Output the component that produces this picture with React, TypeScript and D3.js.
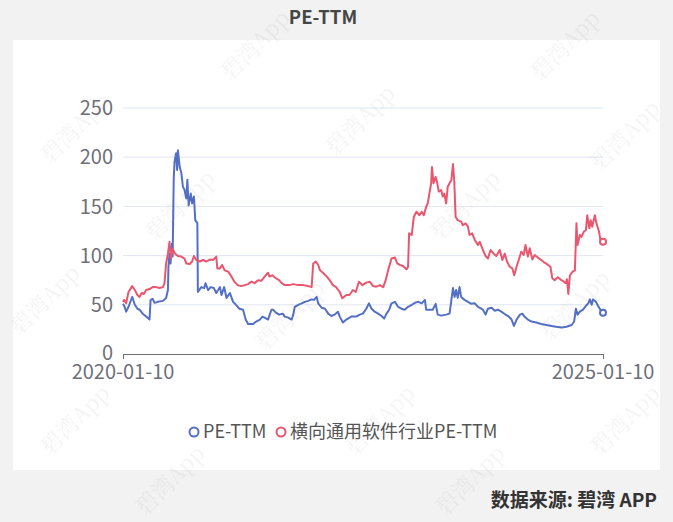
import React from "react";
import * as d3 from "d3";

const W = 673;
const H = 522;

const title = "PE-TTM";
const seriesNames = ["PE-TTM", "横向通用软件行业PE-TTM"];
const seriesColors = ["#5470c6", "#eb566f"];
const yTicks = [0, 50, 100, 150, 200, 250];
const xTickLabels = ["2020-01-10", "2025-01-10"];
const sourceText = "数据来源: 碧湾 APP";

const peDates = [
  "2020-01-10","2020-01-16","2020-01-22","2020-01-31","2020-02-14","2020-02-24","2020-03-05","2020-03-13","2020-03-25","2020-04-07",
  "2020-04-20","2020-04-24","2020-05-02","2020-05-09","2020-05-21","2020-06-10","2020-06-22","2020-06-29","2020-07-01","2020-07-05",
  "2020-07-09","2020-07-14","2020-07-17","2020-07-21","2020-07-24","2020-07-30","2020-08-03","2020-08-06","2020-08-13","2020-08-19",
  "2020-08-25","2020-08-31","2020-09-07","2020-09-11","2020-09-16","2020-09-24","2020-09-29","2020-10-06","2020-10-11","2020-10-19",
  "2020-10-21","2020-11-03","2020-11-14","2020-11-19","2020-11-29","2020-12-09","2020-12-21","2020-12-30","2021-01-13","2021-01-19",
  "2021-01-29","2021-02-07","2021-02-20","2021-03-04","2021-03-15","2021-03-28","2021-04-11","2021-04-21","2021-04-30","2021-05-19",
  "2021-05-31","2021-06-14","2021-06-24","2021-07-02","2021-07-15","2021-07-28","2021-08-03","2021-08-14","2021-08-26","2021-09-09",
  "2021-09-17","2021-09-30","2021-10-13","2021-10-19","2021-10-25","2021-11-07","2021-11-20","2021-12-02","2021-12-15","2021-12-28",
  "2022-01-06","2022-01-16","2022-01-22","2022-02-04","2022-02-17","2022-03-01","2022-03-13","2022-03-25","2022-04-07","2022-04-14",
  "2022-04-26","2022-05-09","2022-05-28","2022-06-16","2022-06-29","2022-07-11","2022-07-24","2022-08-03","2022-08-13","2022-08-25",
  "2022-09-07","2022-09-20","2022-09-30","2022-10-09","2022-10-19","2022-10-28","2022-11-10","2022-11-22","2022-12-05","2022-12-17",
  "2022-12-30","2023-01-13","2023-01-25","2023-02-07","2023-02-20","2023-03-04","2023-03-09","2023-03-21","2023-04-03","2023-04-14",
  "2023-04-22","2023-05-05","2023-05-24","2023-06-06","2023-06-13","2023-06-19","2023-06-25","2023-07-01","2023-07-07","2023-07-14",
  "2023-07-20","2023-08-02","2023-08-15","2023-08-28","2023-09-10","2023-09-22","2023-10-05","2023-10-11","2023-10-21","2023-10-30",
  "2023-11-13","2023-11-25","2023-12-07","2023-12-20","2024-01-02","2024-01-15","2024-01-28","2024-02-06","2024-02-16","2024-02-29",
  "2024-03-09","2024-03-17","2024-03-30","2024-04-13","2024-05-01","2024-05-20","2024-06-09","2024-06-28","2024-07-16","2024-08-05",
  "2024-08-24","2024-09-13","2024-09-22","2024-09-29","2024-10-05","2024-10-14","2024-10-26","2024-11-06","2024-11-15","2024-11-21",
  "2024-11-28","2024-12-03","2024-12-14","2024-12-22","2024-12-31","2025-01-10"
];
const peValues = [
  51,48,43,48,58,50,46,45,41,38,
  35,55,56,52,53,54,57,65,89,102,
  92,112,99,177,195,204,187,207,190,184,
  170,167,158,177,151,163,153,160,136,133,
  63,68,67,72,65,68,67,62,68,60,
  68,57,62,53,50,46,45,35,30.5,30.5,
  33,35,38,37,35,45,45,42,40,41,
  38,37,35,40,48,50,51.5,53,54,55.5,
  55,58,51.5,47,46,41,38.6,40,43,38,
  32,35,38,38,40,41,46,51.5,46,43,
  41,38.6,36,41,45,51.5,53,48,46,45,
  48,50,52,53,51.5,55,45,45,45,51,
  40,39,40,41,55,67,58,65,57,68,
  58,55,53,51,51.5,48,46,45,40,46,
  47,44,45,43,40.6,38.6,35,28.5,35,40,
  41,38,35,33,32,30.5,29.5,28.5,27.7,27,
  27.7,29.5,33,46,40,43,45,49,51.5,55.5,
  50,55.5,53,49,45,42
];

const indDates = [
  "2020-01-10","2020-01-14","2020-01-22","2020-01-31","2020-02-14","2020-02-24","2020-03-05","2020-03-13","2020-03-21","2020-03-29",
  "2020-04-07","2020-04-20","2020-05-02","2020-05-15","2020-05-28","2020-06-10","2020-06-16","2020-06-22","2020-06-29","2020-07-05",
  "2020-07-11","2020-07-17","2020-07-26","2020-08-06","2020-08-19","2020-08-31","2020-09-07","2020-09-20","2020-09-29","2020-10-06",
  "2020-10-15","2020-10-28","2020-11-10","2020-11-22","2020-12-05","2020-12-17","2020-12-30","2021-01-03","2021-01-13","2021-01-21",
  "2021-01-31","2021-02-14","2021-02-26","2021-03-09","2021-03-21","2021-04-03","2021-04-17","2021-04-30","2021-05-13","2021-05-25",
  "2021-06-07","2021-06-20","2021-07-02","2021-07-15","2021-07-21","2021-07-31","2021-08-14","2021-08-26","2021-09-05","2021-09-17",
  "2021-10-03","2021-10-19","2021-11-07","2021-11-26","2021-12-15","2021-12-28","2022-01-03","2022-01-13","2022-01-22","2022-01-29",
  "2022-02-11","2022-02-24","2022-03-08","2022-03-19","2022-03-31","2022-04-14","2022-04-24","2022-05-09","2022-05-21","2022-06-03",
  "2022-06-14","2022-06-26","2022-07-09","2022-07-24","2022-08-06","2022-08-19","2022-08-31","2022-09-14","2022-09-26","2022-10-06",
  "2022-10-15","2022-10-28","2022-11-10","2022-11-19","2022-11-29","2022-12-11","2022-12-24","2022-12-30","2023-01-03","2023-01-13",
  "2023-01-21","2023-01-31","2023-02-11","2023-02-20","2023-02-28","2023-03-09","2023-03-15","2023-03-21","2023-03-28","2023-03-31",
  "2023-04-06","2023-04-14","2023-04-19","2023-04-26","2023-05-05","2023-05-11","2023-05-17","2023-05-24","2023-05-30","2023-06-06",
  "2023-06-13","2023-06-19","2023-06-24","2023-06-29","2023-07-07","2023-07-20","2023-07-26","2023-08-06","2023-08-15","2023-08-21",
  "2023-08-31","2023-09-10","2023-09-22","2023-09-29","2023-10-11","2023-10-21","2023-10-30","2023-11-09","2023-11-21","2023-12-01",
  "2023-12-14","2023-12-24","2024-01-02","2024-01-11","2024-01-21","2024-01-31","2024-02-07","2024-02-16","2024-02-26","2024-03-05",
  "2024-03-14","2024-03-21","2024-03-30","2024-04-06","2024-04-16","2024-04-25","2024-05-07","2024-05-20","2024-06-02","2024-06-15",
  "2024-06-24","2024-07-01","2024-07-10","2024-07-22","2024-08-05","2024-08-14","2024-08-21","2024-08-26","2024-08-31","2024-09-06",
  "2024-09-16","2024-09-25","2024-10-01","2024-10-05","2024-10-14","2024-10-20","2024-10-29","2024-11-06","2024-11-11","2024-11-19",
  "2024-11-24","2024-11-30","2024-12-10","2024-12-16","2024-12-26","2024-12-31","2025-01-10"
];
const indValues = [
  53,55,51.5,63,69,65,60,58,62,61,
  65,66,68,68,67,68,72,92,102,114,
  97,107,102,99.6,99,97,92,91.5,94,99.6,
  95.5,94,95.5,94,96,95.5,99,87,87,90.5,
  85,83.6,78.6,73.5,70,69,70,71,73.5,72,
  75,74.5,78.6,82.6,78.6,80,77,75,72,70,
  70,71,70,70,69,68,92,94,90.5,85,
  82,78.6,74.5,70,68,63,56.6,60,60,65,
  63,73.5,70,72.5,73.5,69,68.4,70,67.8,75,
  85,97,98,92,90.5,89.4,86,88.7,122.6,121,
  139.5,144.6,141,144.6,141,149.7,153,163,173.5,190,
  173.5,180,175,165,166.7,160,163,153,170,173.5,
  177,193,175,139.5,136,134.5,131,132.7,129.4,121,
  122.6,115.9,110.8,114,105.7,99.6,97,105.7,102,99.6,
  105.7,95.5,102,93.8,88.7,87,80,88.7,97,104,
  100.6,110.8,99,107.4,96,100.6,98,95.5,92.8,90.5,
  88.7,77,75,78,75,73.5,72,76,61,80,
  83.6,85,132.8,110.8,121,119,124.3,126,141,127.7,
  136,129.4,141,132.8,124.3,115.9,114
];

const watermarkSpots: [number, number][] = [
  [255, 45], [565, 45], [75, 128], [625, 135], [360, 120],
  [180, 205], [465, 205], [45, 300], [290, 315], [575, 305],
  [75, 420], [380, 420], [625, 420], [170, 480], [470, 480]
];

export default function App() {
  const parse = d3.timeParse("%Y-%m-%d");
  const x = d3
    .scaleTime()
    .domain([parse("2020-01-10") as Date, parse("2025-01-10") as Date])
    .range([123, 603]);
  const y = d3.scaleLinear().domain([0, 250]).range([354, 108]);

  const mk = (dates: string[], vals: number[]) =>
    dates.map((d, i) => ({ d: parse(d) as Date, v: vals[i] }));
  const series = [mk(peDates, peValues), mk(indDates, indValues)];
  const line = d3
    .line<{ d: Date; v: number }>()
    .x((p) => x(p.d))
    .y((p) => y(p.v));

  const font = "'Noto Sans CJK SC', 'Noto Sans', sans-serif";
  const axisColor = "#6e7079";
  const xDomain = x.domain();

  return (
    <svg
      width={W}
      height={H}
      style={{ position: "absolute", left: 0, top: 0 }}
      fontFamily={font}
    >
      <rect x={0} y={0} width={W} height={H} fill="#f2f2f2" />
      <rect x={13} y={40} width={647} height={430} fill="#ffffff" />
      <text
        x={323}
        y={24}
        textAnchor="middle"
        fontSize={18.5}
        fontWeight="bold"
        fill="#464646"
      >
        {title}
      </text>

      {yTicks.map((t) => (
        <g key={t}>
          {t > 0 && (
            <line
              x1={123}
              x2={603}
              y1={y(t)}
              y2={y(t)}
              stroke="#e0e6f1"
              strokeWidth={1}
            />
          )}
          <text
            x={113}
            y={t === 0 ? y(t) - 1 : y(t)}
            dy="0.36em"
            textAnchor="end"
            fontSize={20}
            fill={axisColor}
          >
            {t}
          </text>
        </g>
      ))}

      <line x1={123} x2={603} y1={354.5} y2={354.5} stroke={axisColor} strokeWidth={1} />
      {xDomain.map((d, i) => (
        <g key={i}>
          <line
            x1={Math.round(x(d)) + 0.5}
            x2={Math.round(x(d)) + 0.5}
            y1={354}
            y2={359}
            stroke={axisColor}
          />
          <text
            x={x(d)}
            y={379}
            textAnchor="middle"
            fontSize={20}
            fill={axisColor}
          >
            {xTickLabels[i]}
          </text>
        </g>
      ))}

      {series.map((s, i) => (
        <g key={i}>
          <path
            d={line(s) || ""}
            fill="none"
            stroke={seriesColors[i]}
            strokeWidth={2}
            strokeLinejoin="round"
          />
          <circle
            cx={x(s[s.length - 1].d)}
            cy={y(s[s.length - 1].v)}
            r={3}
            fill="#fff"
            stroke={seriesColors[i]}
            strokeWidth={2}
          />
        </g>
      ))}

      <g fontSize={18} fill="#555">
        <circle cx={194} cy={432} r={4.5} fill="#fff" stroke={seriesColors[0]} strokeWidth={2} />
        <text x={203} y={432} dy="0.36em">
          {seriesNames[0]}
        </text>
        <circle cx={281} cy={432} r={4.5} fill="#fff" stroke={seriesColors[1]} strokeWidth={2} />
        <text x={290} y={432} dy="0.36em">
          {seriesNames[1]}
        </text>
      </g>

      <text
        x={657}
        y={507}
        textAnchor="end"
        fontSize={19}
        fontWeight="bold"
        fill="#333"
      >
        {sourceText}
      </text>

      <g fontSize={22} fill="#000" opacity={0.05} fontFamily="'Noto Serif CJK SC', 'Noto Sans CJK SC', serif">
        {watermarkSpots.map(([wx, wy], i) => (
          <text
            key={i}
            x={wx}
            y={wy}
            textAnchor="middle"
            dy="0.35em"
            transform={`rotate(-45 ${wx} ${wy})`}
          >
            碧湾App
          </text>
        ))}
      </g>
    </svg>
  );
}
